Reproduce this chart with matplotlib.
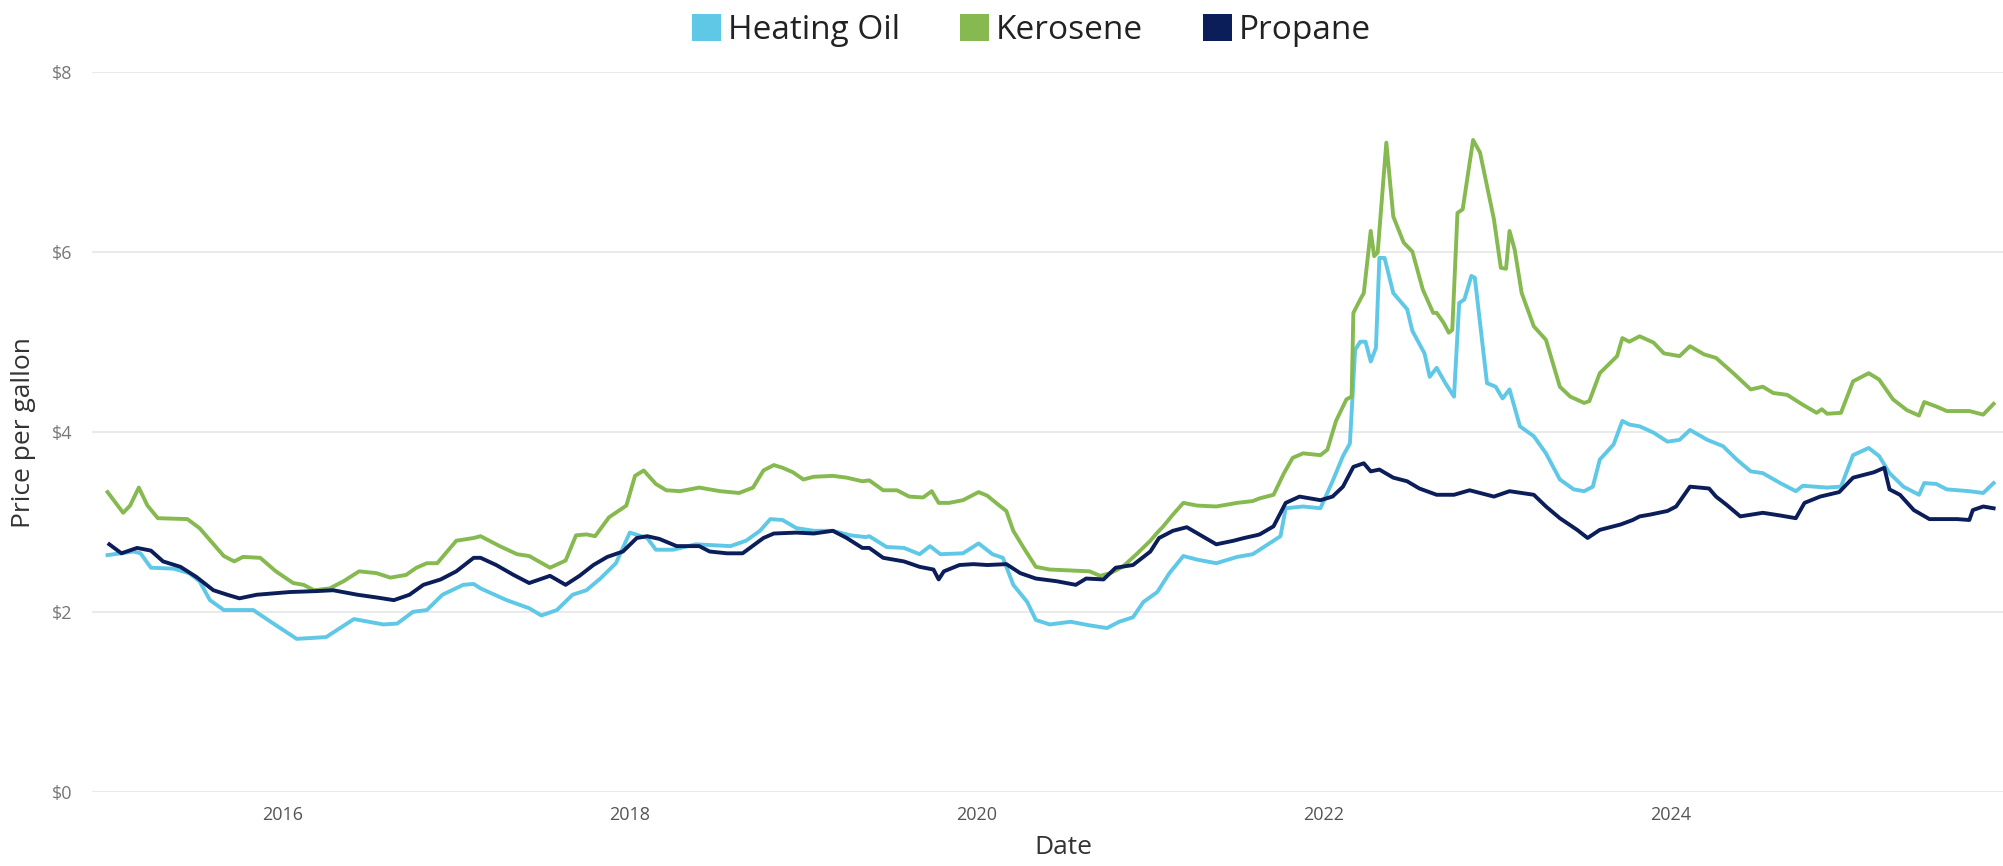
import matplotlib.pyplot as plt
from matplotlib.patches import Patch

plt.rcParams['font.family'] = ['Open Sans', 'DejaVu Sans']

# decimal year, price per gallon
heating_year = [2014.99, 2015.14, 2015.18, 2015.24, 2015.37, 2015.46, 2015.52, 2015.58, 2015.66, 2015.83,
                2015.93, 2016.08, 2016.25, 2016.41, 2016.58, 2016.66, 2016.75, 2016.83, 2016.92, 2017.04,
                2017.10, 2017.14, 2017.29, 2017.42, 2017.49, 2017.58, 2017.67, 2017.75, 2017.83, 2017.92,
                2018.00, 2018.10, 2018.15, 2018.25, 2018.38, 2018.58, 2018.67, 2018.75, 2018.81, 2018.88,
                2018.96, 2019.06, 2019.17, 2019.27, 2019.36, 2019.38, 2019.48, 2019.58, 2019.67, 2019.73,
                2019.79, 2019.92, 2020.01, 2020.09, 2020.15, 2020.21, 2020.29, 2020.34, 2020.42, 2020.54,
                2020.65, 2020.75, 2020.82, 2020.90, 2020.96, 2021.04, 2021.11, 2021.19, 2021.27, 2021.38,
                2021.50, 2021.59, 2021.75, 2021.78, 2021.88, 2021.98, 2022.05, 2022.11, 2022.15, 2022.18,
                2022.21, 2022.24, 2022.27, 2022.30, 2022.32, 2022.35, 2022.40, 2022.48, 2022.51, 2022.58,
                2022.61, 2022.65, 2022.70, 2022.75, 2022.78, 2022.81, 2022.85, 2022.87, 2022.94, 2022.99,
                2023.03, 2023.07, 2023.13, 2023.21, 2023.28, 2023.36, 2023.44, 2023.50, 2023.55, 2023.59,
                2023.67, 2023.72, 2023.76, 2023.82, 2023.90, 2023.98, 2024.05, 2024.11, 2024.21, 2024.30,
                2024.38, 2024.46, 2024.53, 2024.63, 2024.72, 2024.76, 2024.90, 2024.98, 2025.05, 2025.14,
                2025.20, 2025.26, 2025.34, 2025.43, 2025.46, 2025.53, 2025.59, 2025.72, 2025.80, 2025.86]
heating_price = [2.63, 2.67, 2.65, 2.49, 2.48, 2.43, 2.34, 2.13, 2.02, 2.02,
                 1.89, 1.70, 1.72, 1.92, 1.86, 1.87, 2.00, 2.02, 2.19, 2.30,
                 2.31, 2.26, 2.13, 2.04, 1.96, 2.02, 2.19, 2.24, 2.37, 2.54,
                 2.88, 2.82, 2.69, 2.69, 2.75, 2.73, 2.79, 2.90, 3.03, 3.02,
                 2.93, 2.90, 2.90, 2.85, 2.83, 2.84, 2.72, 2.71, 2.64, 2.73,
                 2.64, 2.65, 2.76, 2.64, 2.60, 2.30, 2.11, 1.91, 1.86, 1.89,
                 1.85, 1.82, 1.89, 1.94, 2.11, 2.22, 2.43, 2.62, 2.58, 2.54,
                 2.61, 2.64, 2.84, 3.15, 3.17, 3.15, 3.45, 3.73, 3.87, 4.91,
                 5.00, 5.00, 4.78, 4.93, 5.93, 5.93, 5.54, 5.36, 5.12, 4.87,
                 4.61, 4.71, 4.54, 4.39, 5.43, 5.47, 5.73, 5.71, 4.54, 4.50,
                 4.37, 4.47, 4.06, 3.95, 3.76, 3.47, 3.36, 3.34, 3.39, 3.69,
                 3.86, 4.12, 4.08, 4.06, 3.99, 3.89, 3.91, 4.02, 3.91, 3.84,
                 3.69, 3.56, 3.54, 3.43, 3.34, 3.40, 3.38, 3.39, 3.74, 3.82,
                 3.73, 3.54, 3.39, 3.30, 3.43, 3.42, 3.36, 3.34, 3.32, 3.43]

kerosene_year = [2014.99, 2015.08, 2015.12, 2015.17, 2015.22, 2015.28, 2015.45, 2015.52, 2015.66, 2015.72,
                 2015.77, 2015.87, 2015.96, 2016.06, 2016.12, 2016.18, 2016.27, 2016.35, 2016.44, 2016.54,
                 2016.62, 2016.71, 2016.77, 2016.83, 2016.89, 2017.00, 2017.10, 2017.14, 2017.25, 2017.35,
                 2017.42, 2017.54, 2017.63, 2017.69, 2017.75, 2017.80, 2017.88, 2017.98, 2018.03, 2018.08,
                 2018.15, 2018.21, 2018.29, 2018.40, 2018.52, 2018.63, 2018.71, 2018.77, 2018.83, 2018.88,
                 2018.94, 2019.00, 2019.06, 2019.17, 2019.25, 2019.34, 2019.38, 2019.46, 2019.54, 2019.61,
                 2019.69, 2019.74, 2019.78, 2019.84, 2019.92, 2020.01, 2020.06, 2020.13, 2020.17, 2020.21,
                 2020.27, 2020.34, 2020.42, 2020.54, 2020.65, 2020.71, 2020.77, 2020.84, 2020.92, 2021.00,
                 2021.04, 2021.07, 2021.13, 2021.19, 2021.27, 2021.38, 2021.50, 2021.59, 2021.63, 2021.71,
                 2021.77, 2021.82, 2021.88, 2021.98, 2022.02, 2022.07, 2022.13, 2022.16, 2022.17, 2022.21,
                 2022.23, 2022.27, 2022.29, 2022.31, 2022.36, 2022.40, 2022.46, 2022.51, 2022.57, 2022.63,
                 2022.65, 2022.69, 2022.72, 2022.74, 2022.77, 2022.80, 2022.86, 2022.90, 2022.98, 2023.02,
                 2023.05, 2023.07, 2023.10, 2023.14, 2023.21, 2023.28, 2023.32, 2023.36, 2023.42, 2023.50,
                 2023.53, 2023.59, 2023.69, 2023.72, 2023.76, 2023.82, 2023.90, 2023.96, 2024.05, 2024.11,
                 2024.19, 2024.26, 2024.36, 2024.46, 2024.53, 2024.59, 2024.67, 2024.76, 2024.84, 2024.87,
                 2024.90, 2024.98, 2025.05, 2025.14, 2025.20, 2025.28, 2025.36, 2025.43, 2025.46, 2025.53,
                 2025.59, 2025.72, 2025.80, 2025.86]
kerosene_price = [3.33, 3.10, 3.18, 3.38, 3.18, 3.04, 3.03, 2.93, 2.62, 2.56,
                  2.61, 2.60, 2.45, 2.32, 2.30, 2.24, 2.26, 2.34, 2.45, 2.43,
                  2.38, 2.41, 2.49, 2.54, 2.54, 2.79, 2.82, 2.84, 2.73, 2.64,
                  2.62, 2.49, 2.57, 2.85, 2.86, 2.84, 3.05, 3.18, 3.51, 3.57,
                  3.42, 3.35, 3.34, 3.38, 3.34, 3.32, 3.38, 3.57, 3.63, 3.60,
                  3.55, 3.47, 3.50, 3.51, 3.49, 3.45, 3.46, 3.35, 3.35, 3.28,
                  3.27, 3.34, 3.21, 3.21, 3.24, 3.33, 3.29, 3.18, 3.12, 2.90,
                  2.71, 2.50, 2.47, 2.46, 2.45, 2.40, 2.43, 2.50, 2.64, 2.79,
                  2.88, 2.94, 3.08, 3.21, 3.18, 3.17, 3.21, 3.23, 3.26, 3.30,
                  3.54, 3.71, 3.76, 3.74, 3.80, 4.12, 4.36, 4.39, 5.32, 5.47,
                  5.54, 6.23, 5.95, 5.99, 7.21, 6.39, 6.10, 6.00, 5.58, 5.32,
                  5.32, 5.21, 5.10, 5.13, 6.43, 6.47, 7.24, 7.10, 6.36, 5.82,
                  5.81, 6.23, 6.02, 5.54, 5.17, 5.02, 4.76, 4.50, 4.39, 4.32,
                  4.34, 4.65, 4.84, 5.04, 5.00, 5.06, 4.99, 4.87, 4.84, 4.95,
                  4.86, 4.82, 4.65, 4.47, 4.50, 4.43, 4.41, 4.30, 4.21, 4.25,
                  4.20, 4.21, 4.56, 4.65, 4.58, 4.36, 4.24, 4.18, 4.33, 4.28,
                  4.23, 4.23, 4.19, 4.31]

propane_year = [2015.00, 2015.07, 2015.16, 2015.24, 2015.31, 2015.41, 2015.50, 2015.60, 2015.68, 2015.75,
                2015.85, 2016.04, 2016.19, 2016.29, 2016.43, 2016.54, 2016.64, 2016.73, 2016.81, 2016.91,
                2017.00, 2017.10, 2017.14, 2017.23, 2017.33, 2017.42, 2017.54, 2017.63, 2017.71, 2017.79,
                2017.87, 2017.96, 2018.04, 2018.10, 2018.17, 2018.27, 2018.40, 2018.46, 2018.56, 2018.65,
                2018.77, 2018.83, 2018.96, 2019.06, 2019.17, 2019.25, 2019.34, 2019.38, 2019.46, 2019.58,
                2019.67, 2019.75, 2019.78, 2019.81, 2019.90, 2019.98, 2020.06, 2020.17, 2020.25, 2020.34,
                2020.46, 2020.57, 2020.63, 2020.73, 2020.80, 2020.90, 2021.00, 2021.05, 2021.13, 2021.21,
                2021.29, 2021.38, 2021.48, 2021.54, 2021.61, 2021.63, 2021.71, 2021.78, 2021.86, 2021.98,
                2022.05, 2022.11, 2022.17, 2022.23, 2022.27, 2022.32, 2022.40, 2022.48, 2022.55, 2022.65,
                2022.75, 2022.84, 2022.98, 2023.07, 2023.21, 2023.28, 2023.36, 2023.46, 2023.52, 2023.59,
                2023.71, 2023.78, 2023.82, 2023.88, 2023.98, 2024.03, 2024.11, 2024.22, 2024.26, 2024.32,
                2024.40, 2024.53, 2024.63, 2024.72, 2024.77, 2024.86, 2024.97, 2025.05, 2025.17, 2025.23,
                2025.26, 2025.32, 2025.40, 2025.49, 2025.65, 2025.72, 2025.74, 2025.80, 2025.86]
propane_price = [2.75, 2.65, 2.71, 2.68, 2.56, 2.50, 2.39, 2.24, 2.19, 2.15,
                 2.19, 2.22, 2.23, 2.24, 2.19, 2.16, 2.13, 2.19, 2.30, 2.36,
                 2.45, 2.60, 2.60, 2.52, 2.41, 2.32, 2.40, 2.30, 2.40, 2.52,
                 2.61, 2.67, 2.82, 2.84, 2.81, 2.73, 2.73, 2.67, 2.65, 2.65,
                 2.82, 2.87, 2.88, 2.87, 2.90, 2.82, 2.71, 2.71, 2.60, 2.56,
                 2.50, 2.47, 2.36, 2.45, 2.52, 2.53, 2.52, 2.53, 2.43, 2.37,
                 2.34, 2.30, 2.37, 2.36, 2.49, 2.52, 2.67, 2.82, 2.90, 2.94,
                 2.85, 2.75, 2.79, 2.82, 2.85, 2.86, 2.95, 3.21, 3.28, 3.24,
                 3.28, 3.39, 3.61, 3.65, 3.56, 3.58, 3.49, 3.45, 3.37, 3.30,
                 3.30, 3.35, 3.28, 3.34, 3.30, 3.17, 3.04, 2.91, 2.82, 2.91,
                 2.97, 3.02, 3.06, 3.08, 3.12, 3.17, 3.39, 3.37, 3.28, 3.19,
                 3.06, 3.10, 3.07, 3.04, 3.21, 3.28, 3.33, 3.49, 3.55, 3.60,
                 3.36, 3.30, 3.13, 3.03, 3.03, 3.02, 3.13, 3.17, 3.15]

series_names = ['Heating Oil', 'Kerosene', 'Propane']
series_colors = ['#5EC8E6', '#86B94F', '#0C1E5A']
year_ticks = [2016, 2018, 2020, 2022, 2024]
price_ticks = [0, 2, 4, 6, 8]

fig = plt.figure(figsize=(20.03, 8.66), dpi=100)
ax = fig.add_axes([0.0459, 0.0855, 0.9541, 0.8319])

ax.plot(heating_year, heating_price, color=series_colors[0], lw=2.8, solid_joinstyle='round')
ax.plot(kerosene_year, kerosene_price, color=series_colors[1], lw=2.8, solid_joinstyle='round')
ax.plot(propane_year, propane_price, color=series_colors[2], lw=2.8, solid_joinstyle='round')

ax.set_xlim(2014.9, 2025.914)
ax.set_ylim(0, 8)
ax.set_xticks(year_ticks)
ax.set_xticklabels([str(y) for y in year_ticks])
ax.set_yticks(price_ticks)
ax.set_yticklabels(['$' + str(p) for p in price_ticks])
ax.tick_params(axis='x', length=0, pad=10, labelsize=13, labelcolor='#555555')
ax.tick_params(axis='y', length=0, pad=14, labelsize=13, labelcolor='#777777')
ax.grid(axis='y', color='#E6E6E6', lw=1.2)
ax.set_axisbelow(True)
for s in ax.spines.values():
    s.set_visible(False)

fig.text(0.531, 0.021, 'Date', ha='center', va='center', fontsize=19, color='#333333')
fig.text(0.0115, 0.501, 'Price per gallon', ha='center', va='center', rotation=90,
         fontsize=19, color='#333333')

handles = [Patch(facecolor=c, edgecolor='none') for c in series_colors]
fig.legend(handles, series_names, loc='center', bbox_to_anchor=(0.515, 0.965), ncol=3,
           frameon=False, fontsize=24, handlelength=0.87, handleheight=0.87,
           handletextpad=0.2, columnspacing=1.8, labelcolor='#222222')

fig.savefig('out.png', dpi=100)
